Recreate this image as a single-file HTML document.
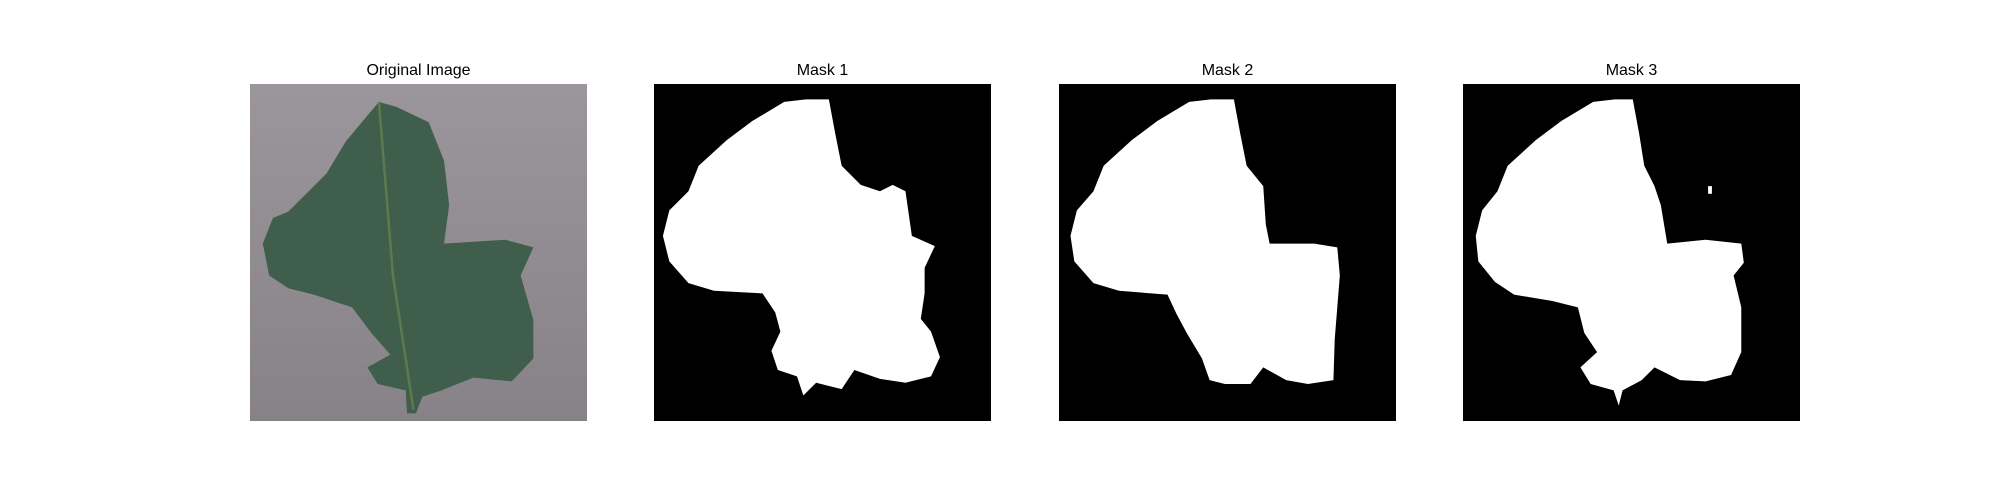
<!DOCTYPE html>
<html><head><meta charset="utf-8"><style>
body{margin:0;width:2000px;height:500px;background:#fff;position:relative;overflow:hidden;font-family:"Liberation Sans","DejaVu Sans",sans-serif}
.t{position:absolute;top:62px;width:337px;text-align:center;font-size:16px;color:#000}
svg.p{position:absolute;top:84px;width:337px;height:337px}
</style></head><body>
<div class="t" style="left:250px">Original Image</div>
<div class="t" style="left:654px">Mask 1</div>
<div class="t" style="left:1059px">Mask 2</div>
<div class="t" style="left:1463px">Mask 3</div>

<svg class="p" style="left:250px" viewBox="0 0 264 264" preserveAspectRatio="none">
<defs><linearGradient id="g" x1="0" y1="0" x2="0" y2="1"><stop offset="0" stop-color="#9b969b"/><stop offset="1" stop-color="#878287"/></linearGradient></defs>
<rect width="264" height="264" fill="url(#g)"/>
<path d="M101,14 L115,18 L140,30 L152,60 L156,95 L152,125 L200,122 L222,128 L212,150 L222,185 L222,215 L205,233 L175,230 L150,240 L135,245 L130,258 L123,258 L122,240 L100,235 L92,222 L110,212 L95,195 L80,175 L50,165 L30,160 L15,150 L10,125 L18,105 L30,100 L45,85 L60,70 L75,45 Z" fill="#3f5e4c"/>
<path d="M101,14 L112,150 L128,255" stroke="#5d7a4f" stroke-width="2" fill="none"/>
</svg>

<svg class="p" style="left:654px" viewBox="0 0 264 264" preserveAspectRatio="none">
<rect width="264" height="264" fill="#000"/>
<path d="M119,12 L137,12 L142,39 L147,64 L162,79 L177,84 L187,79 L197,84 L202,119 L220,127 L212,144 L212,164 L209,184 L217,194 L224,214 L217,229 L197,234 L177,231 L157,224 L147,239 L127,234 L117,244 L112,229 L97,224 L92,209 L99,194 L95,179 L85,164 L47,162 L27,156 L12,139 L7,119 L12,99 L27,84 L35,64 L57,44 L77,29 L102,14 Z" fill="#fff"/>
</svg>

<svg class="p" style="left:1059px" viewBox="0 0 264 264" preserveAspectRatio="none">
<rect width="264" height="264" fill="#000"/>
<path d="M119,12 L137,12 L142,39 L147,64 L160,80 L162,110 L165,125 L200,125 L218,128 L220,150 L218,175 L216,200 L215,232 L195,235 L178,232 L160,222 L150,235 L130,235 L118,232 L112,215 L100,195 L92,180 L85,165 L47,162 L27,156 L12,139 L9,119 L14,99 L27,84 L35,64 L57,44 L77,29 L102,14 Z" fill="#fff"/>
</svg>

<svg class="p" style="left:1463px" viewBox="0 0 264 264" preserveAspectRatio="none">
<rect width="264" height="264" fill="#000"/>
<path d="M119,12 L133,12 L138,39 L142,64 L150,80 L155,95 L160,125 L190,122 L218,125 L220,140 L212,150 L218,175 L218,210 L210,228 L190,233 L170,232 L150,222 L140,232 L125,240 L122,252 L118,240 L100,235 L92,222 L105,210 L95,195 L90,175 L70,170 L40,165 L25,155 L12,139 L10,119 L15,99 L27,84 L35,64 L57,44 L77,29 L102,14 Z" fill="#fff"/>
<rect x="192" y="80" width="3" height="6" fill="#fff"/>
</svg>
</body></html>
